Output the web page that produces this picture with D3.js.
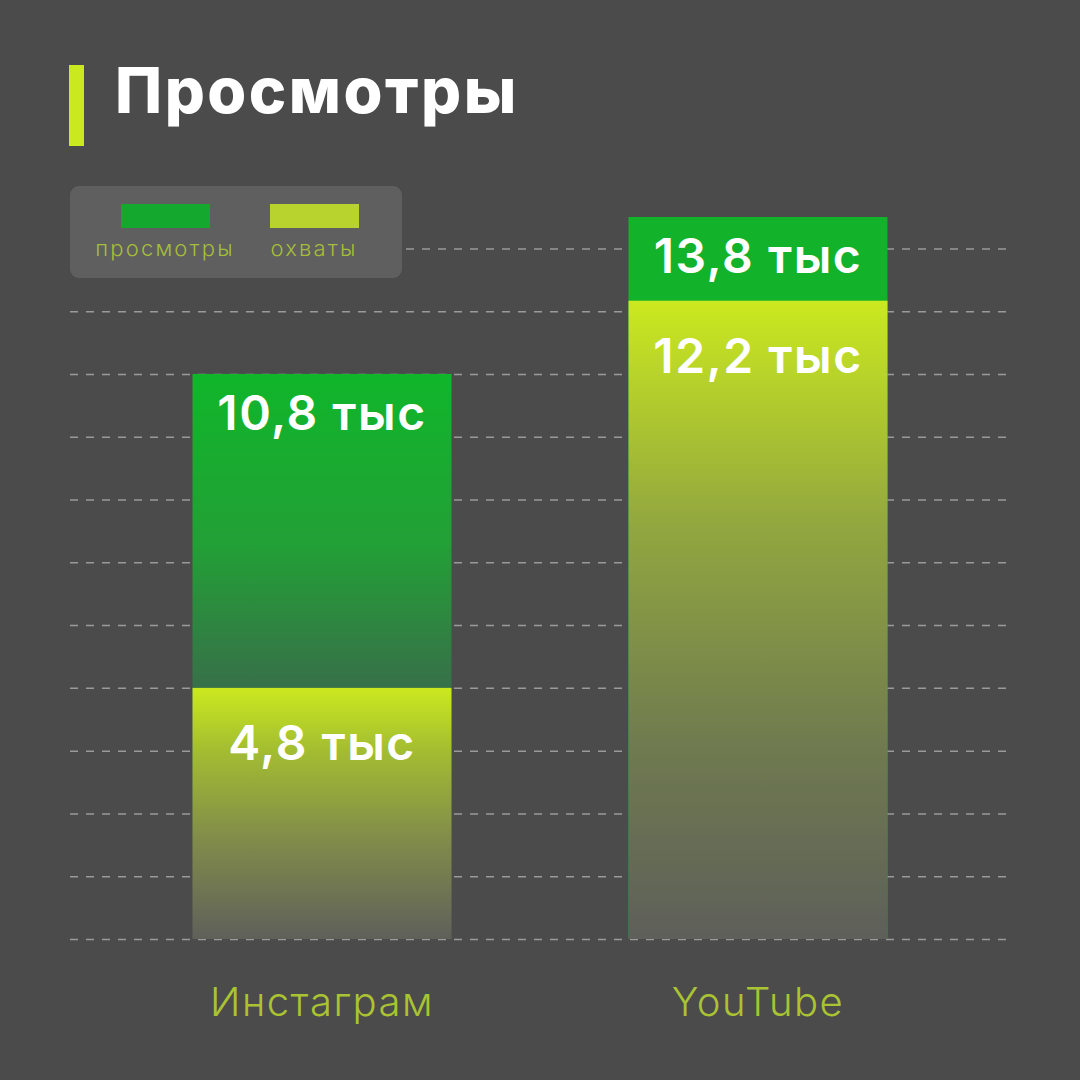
<!DOCTYPE html>
<html>
<head>
<meta charset="utf-8">
<script src="https://cdn.jsdelivr.net/npm/d3@7"></script>
<style>
  html, body { margin: 0; padding: 0; background: #4b4b4b; }
  svg { display: block; }
</style>
</head>
<body>
<div id="chart"></div>
<script>
(function() {

    // data
    const categories = ["Инстаграм", "YouTube"];
    const views = [10.8, 13.8];   // просмотры, тыс
    const reach = [4.8, 12.2];    // охваты, тыс
    const gridTicks = [0, 1.2, 2.4, 3.6, 4.8, 6, 7.2, 8.4, 9.6, 10.8, 12, 13.2];
    const seriesNames = ["просмотры", "охваты"];

    const width = 1080, height = 1080;
    const green = "#12b22b", labelColor = "#aac332";

    let svg = d3.select("#chart").append("svg")
                .attr("width", width)
                .attr("height", height)
                .style("font-family", "Inter, 'Noto Sans', sans-serif");

    svg.append("rect").attr("width", width).attr("height", height).attr("fill", "#4b4b4b");

    let defs = svg.append("defs");
    function vGrad(id, stops) {
        let g = defs.append("linearGradient").attr("id", id)
            .attr("x1", 0).attr("y1", 0).attr("x2", 0).attr("y2", 1);
        stops.forEach(s => g.append("stop").attr("offset", s[0]).attr("stop-color", s[1]));
    }
    vGrad("gradViews", [[0, "#10b62a"], [0.3, "#22a036"], [0.55, "#377148"], [1, "#4e4e4e"]]);
    vGrad("gradReach", [[0, "#cbe91f"], [0.35, "#92a73f"], [0.7, "#6f7a4f"], [1, "#5e5f5a"]]);
    vGrad("gradReachShort", [[0, "#cbe91f"], [0.25, "#a3bd31"], [0.6, "#818c4a"], [1, "#5f605a"]]);

    let yScale = d3.scaleLinear().domain([0, 13.8]).range([939, 217]);
    let xScale = d3.scaleBand().domain(categories).range([70, 1010])
                .paddingInner(0.406).paddingOuter(0.281);

    // grid
    svg.append("g").attr("class", "grid")
        .attr("transform", "translate(70,0)")
        .call(d3.axisLeft(yScale).tickValues(gridTicks).tickSize(-940).tickFormat(""))
        .call(g => g.select(".domain").remove())
        .call(g => g.selectAll(".tick line")
            .attr("stroke", "#9a9a9a").attr("stroke-width", 1.5)
            .attr("stroke-dasharray", "8,8"));

    // views bars (behind)
    svg.selectAll(".bar-views").data(categories).join("rect")
        .attr("class", "bar-views")
        .attr("x", d => xScale(d))
        .attr("width", xScale.bandwidth())
        .attr("y", (d, i) => yScale(views[i]))
        .attr("height", (d, i) => yScale(0) - yScale(views[i]))
        .attr("fill", (d, i) => i === 0 ? "url(#gradViews)" : green);

    // reach bars (front)
    svg.selectAll(".bar-reach").data(categories).join("rect")
        .attr("class", "bar-reach")
        .attr("x", d => xScale(d))
        .attr("width", xScale.bandwidth())
        .attr("y", (d, i) => yScale(reach[i]))
        .attr("height", (d, i) => yScale(0) - yScale(reach[i]))
        .attr("fill", (d, i) => i === 0 ? "url(#gradReachShort)" : "url(#gradReach)");

    const fmt = v => String(v).replace(".", ",") + " тыс";

    function valueLabels(values, cls, offset) {
        svg.selectAll("." + cls).data(categories).join("text")
            .attr("class", cls)
            .attr("x", d => xScale(d) + xScale.bandwidth() / 2)
            .attr("y", (d, i) => yScale(values[i]) + offset)
            .attr("text-anchor", "middle")
            .attr("fill", "#ffffff")
            .attr("font-size", 48)
            .attr("font-weight", 600)
            .attr("letter-spacing", 1.5)
            .text((d, i) => fmt(values[i]));
    }
    valueLabels(views, "lbl-views", 56);
    valueLabels(reach, "lbl-reach", 72);

    // category labels
    svg.selectAll(".cat").data(categories).join("text")
        .attr("class", "cat")
        .attr("x", d => xScale(d) + xScale.bandwidth() / 2)
        .attr("y", 1016)
        .attr("text-anchor", "middle")
        .attr("fill", labelColor)
        .attr("font-size", 40)
        .attr("font-weight", 300)
        .attr("letter-spacing", 1.5)
        .text(d => d);

    // title
    svg.append("rect").attr("x", 69).attr("y", 65).attr("width", 15).attr("height", 81).attr("fill", "#cbe91f");
    svg.append("text").attr("x", 115).attr("y", 113)
        .attr("fill", "#ffffff").attr("font-size", 63).attr("font-weight", 800)
        .attr("letter-spacing", 2.5)
        .text("Просмотры");

    // legend
    let legend = svg.append("g").attr("transform", "translate(70,186)");
    legend.append("rect").attr("width", 332).attr("height", 92).attr("rx", 9).attr("fill", "#5f5f5f");
    let items = legend.selectAll(".item").data(seriesNames).join("g")
        .attr("class", "item")
        .attr("transform", (d, i) => "translate(" + (95 + i * 149) + ",0)");
    items.append("rect").attr("x", -44).attr("y", 18).attr("width", 89).attr("height", 24)
        .attr("fill", (d, i) => i === 0 ? "#14a82e" : "#b8d22e");
    items.append("text").attr("y", 70).attr("text-anchor", "middle")
        .attr("fill", "#a5bd3a").attr("font-size", 22).attr("font-weight", 300)
        .attr("letter-spacing", 2.2)
        .text(d => d);

})();
</script>
</body>
</html>
